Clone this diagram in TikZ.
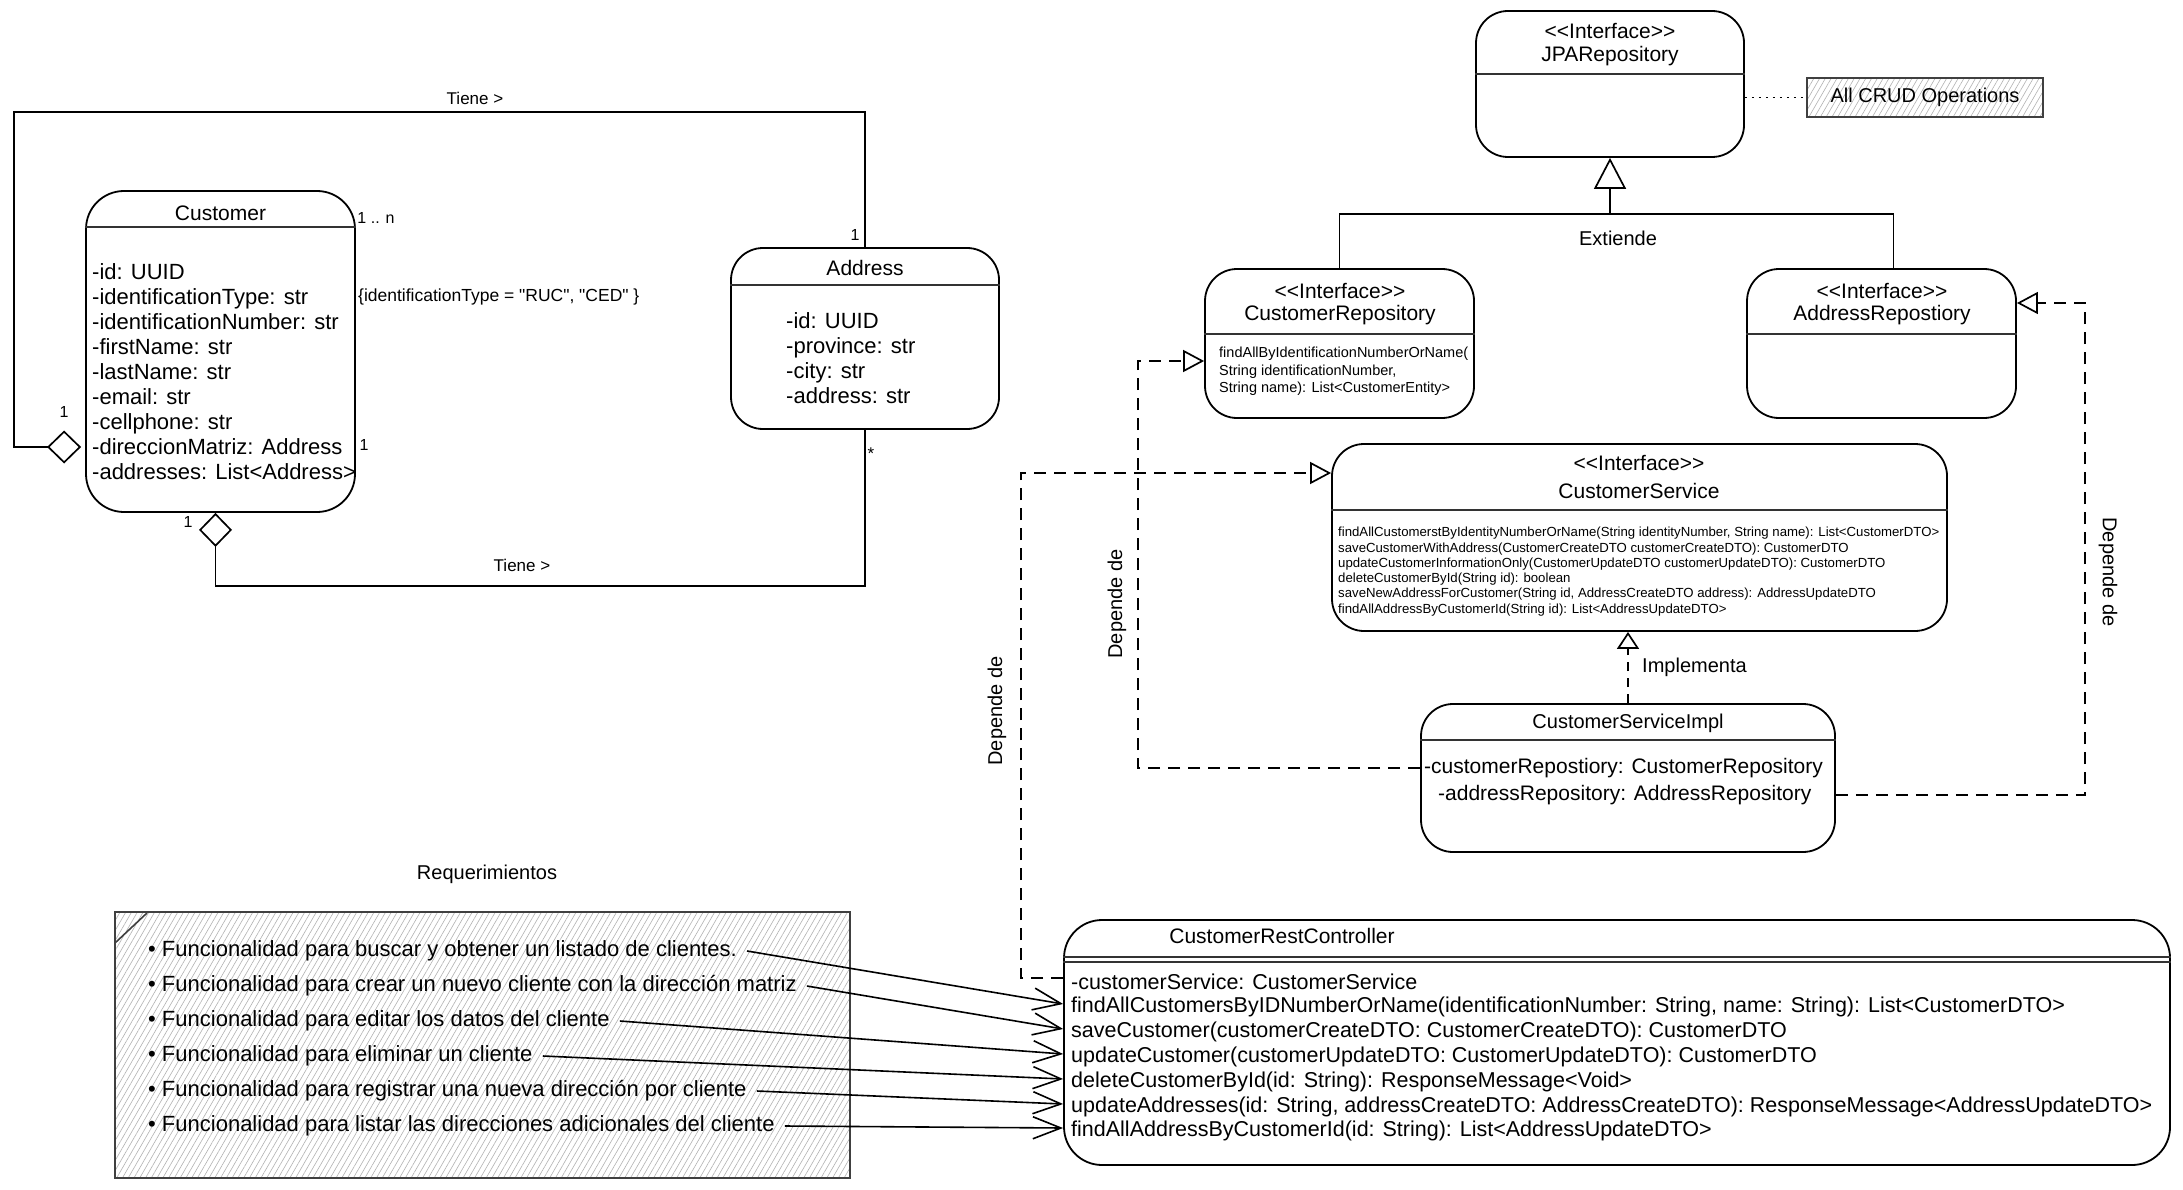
\documentclass[tikz,border=0pt]{standalone}
\usepackage{fontspec}
\setmainfont{Liberation Sans}[Ligatures=TeXOff]
\usetikzlibrary{arrows.meta,calc,patterns.meta}
\newcommand{\fz}[1]{\fontsize{#1}{#1}\selectfont}
\begin{document}
\begin{tikzpicture}[x=1pt,y=-1pt,
 box/.style={draw, line width=1.8pt, rounded corners=32pt, inner sep=0pt, fill=white},
 hdr/.style={line width=2.4pt, draw=black!80},
 lbl/.style={inner sep=0pt, font=\fz{20}},
 attr/.style={inner sep=0pt, anchor=north west, align=left},
 oneline/.style={inner sep=0pt, anchor=west},
 con/.style={line width=1.7pt},
 aggr/.style={con, {Diamond[open,length=34pt,width=33pt,line width=1.7pt]}-},
 gen/.style={con, -{Triangle[open,length=31pt,width=32pt,line width=1.7pt]}},
 dep/.style={con, dash pattern=on 12pt off 8pt, -{Triangle[open,length=21pt,width=22pt,line width=1.7pt]}},
 impl/.style={con, dash pattern=on 9pt off 7pt, -{Triangle[open,length=17pt,width=22pt,line width=1.7pt]}},
 reqarr/.style={line width=1.6pt, -{Straight Barb[length=28pt,width=22pt,line width=1.6pt]}},
 hatch/.style={pattern={Lines[angle=60,distance=5pt,line width=0.6pt]}, pattern color=black!30}
]
\path[use as bounding box, fill=white] (0,0) rectangle (2183,1190);

% ---------- boxes ----------
\node[box, rounded corners=38pt, minimum width=269pt, minimum height=321pt] (cust) at (220.5,351.5) {};
\node[box, minimum width=268pt, minimum height=181pt] (addr) at (865,338.5) {};
\node[box, minimum width=268pt, minimum height=146pt] (jpa) at (1610,84) {};
\node[draw=black!75, line width=1.6pt, hatch, minimum width=236pt, minimum height=39pt, inner sep=0pt, font=\fz{20}] (crud) at (1925,97.5) {All CRUD Operations};
\node[box, minimum width=269pt, minimum height=149pt] (crepo) at (1339.5,343.5) {};
\node[box, minimum width=269pt, minimum height=149pt] (arepo) at (1881.5,343.5) {};
\node[box, minimum width=615pt, minimum height=187pt] (cs) at (1639.5,537.5) {};
\node[box, minimum width=414pt, minimum height=148pt] (csi) at (1628,778) {};
\node[box, rounded corners=38pt, minimum width=1106pt, minimum height=245pt] (ctrl) at (1617,1042.5) {};
\node[draw=black!75, line width=1.6pt, hatch, minimum width=735pt, minimum height=266pt, inner sep=0pt] (reqbox) at (482.5,1045) {};
\draw[line width=1.6pt, black!75] (115,943) -- (147,913);

% ---------- header lines ----------
\draw[hdr] (cust.west |- 0,227) -- (cust.east |- 0,227);
\draw[hdr] (addr.west |- 0,285) -- (addr.east |- 0,285);
\draw[hdr] (jpa.west |- 0,74) -- (jpa.east |- 0,74);
\draw[hdr] (crepo.west |- 0,334) -- (crepo.east |- 0,334);
\draw[hdr] (arepo.west |- 0,334) -- (arepo.east |- 0,334);
\draw[hdr] (cs.west |- 0,510) -- (cs.east |- 0,510);
\draw[hdr] (csi.west |- 0,740) -- (csi.east |- 0,740);
\draw[line width=1.5pt, black!80] (ctrl.west |- 0,957) -- (ctrl.east |- 0,957);
\draw[line width=1.5pt, black!80] (ctrl.west |- 0,962) -- (ctrl.east |- 0,962);

% ---------- Customer ----------
\node[lbl, font=\fz{21}] (custT) at (220.5,213) {Customer};
\node[attr, font=\fontsize{22}{25.1}\selectfont] (custA) at (92,263) {-id: UUID\\-identificationType: str\\-identificationNumber: str\\-firstName: str\\-lastName: str\\-email: str\\-cellphone: str\\-direccionMatriz: Address\\-addresses: List<Address>};
\node[lbl, font=\fz{16}] (multn) at (376,218) {1 .. n};
\node[lbl, font=\fz{17.5}, anchor=west] (cons) at (358,297) {\{identificationType = "RUC", "CED" \}};
\node[lbl, font=\fz{16}] (mr) at (364,445) {1};
\node[lbl, font=\fz{16}] (ml) at (64,412) {1};
\node[lbl, font=\fz{16}] (mb) at (188,522) {1};
\node[lbl, font=\fz{16}] (ma) at (855,235) {1};
\node[lbl, font=\fz{17}] (mstar) at (871,454) {*};
\node[lbl, font=\fz{17}] (tiene1) at (475,98) {Tiene >};
\node[lbl, font=\fz{17}] (tiene2) at (522,565) {Tiene >};

% ---------- Address ----------
\node[lbl, font=\fz{21}] (addrT) at (865,268) {Address};
\node[attr, font=\fontsize{22}{25.1}\selectfont] (addrA) at (786,312) {-id: UUID\\-province: str\\-city: str\\-address: str};

% ---------- JPA ----------
\node[lbl, font=\fz{21}] (jpaS) at (1610,31) {<<Interface>>};
\node[lbl, font=\fz{21}] (jpaT) at (1610,56) {JPARepository};

% ---------- repositories ----------
\node[lbl, font=\fz{21}] (crepoS) at (1340,291) {<<Interface>>};
\node[lbl, font=\fz{21}] (crepoT) at (1340,315) {CustomerRepository};
\node[attr, font=\fontsize{14.5}{17.5}\selectfont] (crepoM) at (1219,347) {findAllByIdentificationNumberOrName(\\String identificationNumber,\\String name): List<CustomerEntity>};
\node[lbl, font=\fz{21}] (arepoS) at (1882,291) {<<Interface>>};
\node[lbl, font=\fz{21}] (arepoT) at (1882,315) {AddressRepostiory};
\node[lbl] (ext) at (1618,238) {Extiende};

% ---------- CustomerService ----------
\node[lbl, font=\fz{21}] (csS) at (1639,463) {<<Interface>>};
\node[lbl, font=\fz{21}] (csT) at (1639,491) {CustomerService};
\node[attr, font=\fontsize{13.2}{15.3}\selectfont] (csM) at (1338,527) {findAllCustomerstByIdentityNumberOrName(String identityNumber, String name): List<CustomerDTO>\\saveCustomerWithAddress(CustomerCreateDTO customerCreateDTO): CustomerDTO\\updateCustomerInformationOnly(CustomerUpdateDTO customerUpdateDTO): CustomerDTO\\deleteCustomerById(String id): boolean\\saveNewAddressForCustomer(String id, AddressCreateDTO address): AddressUpdateDTO\\findAllAddressByCustomerId(String id): List<AddressUpdateDTO>};
\node[lbl, anchor=west] (implL) at (1642,667) {Implementa};

% ---------- CustomerServiceImpl ----------
\node[lbl] (csiT) at (1628,723) {CustomerServiceImpl};
\node[oneline, font=\fz{21}] (csiA1) at (1424,768) {-customerRepostiory: CustomerRepository};
\node[oneline, font=\fz{21}] (csiA2) at (1438,795) {-addressRepository: AddressRepository};

% ---------- dependency labels ----------
\node[lbl, rotate=90] (dep1) at (1117,604) {Depende de};
\node[lbl, rotate=90] (dep2) at (997,711) {Depende de};
\node[lbl, rotate=-90] (dep3) at (2108,572) {Depende de};

% ---------- Controller ----------
\node[lbl, font=\fz{21}] (ctrlT) at (1282,936) {CustomerRestController};
\node[oneline, font=\fz{21.5}] (cm0) at (1071,982) {-customerService: CustomerService};
\node[oneline, font=\fz{21.5}] (cm1) at (1071,1007) {findAllCustomersByIDNumberOrName(identificationNumber: String, name: String): List<CustomerDTO>};
\node[oneline, font=\fz{21.5}] (cm2) at (1071,1032) {saveCustomer(customerCreateDTO: CustomerCreateDTO): CustomerDTO};
\node[oneline, font=\fz{21.5}] (cm3) at (1071,1057) {updateCustomer(customerUpdateDTO: CustomerUpdateDTO): CustomerDTO};
\node[oneline, font=\fz{21.5}] (cm4) at (1071,1082) {deleteCustomerById(id: String): ResponseMessage<Void>};
\node[oneline, font=\fz{21.5}] (cm5) at (1071,1107) {updateAddresses(id: String, addressCreateDTO: AddressCreateDTO): ResponseMessage<AddressUpdateDTO>};
\node[oneline, font=\fz{21.5}] (cm6) at (1071,1131) {findAllAddressByCustomerId(id: String): List<AddressUpdateDTO>};

% ---------- Requirements ----------
\node[lbl] (reqT) at (487,874) {Requerimientos};
\node[oneline, font=\fz{22}] (req1) at (148,951) {\textbullet\ Funcionalidad para buscar y obtener un listado de clientes.};
\node[oneline, font=\fz{22}] (req2) at (148,986) {\textbullet\ Funcionalidad para crear un nuevo cliente con la dirección matriz};
\node[oneline, font=\fz{22}] (req3) at (148,1021) {\textbullet\ Funcionalidad para editar los datos del cliente};
\node[oneline, font=\fz{22}] (req4) at (148,1056) {\textbullet\ Funcionalidad para eliminar un cliente};
\node[oneline, font=\fz{22}] (req5) at (148,1091) {\textbullet\ Funcionalidad para registrar una nueva dirección por cliente};
\node[oneline, font=\fz{22}] (req6) at (148,1126) {\textbullet\ Funcionalidad para listar las direcciones adicionales del cliente};

% ---------- connectors ----------
\draw[aggr] ($(cust.west)+(-4,95.5)$) -- ++(-67,0) -- ++(0,-335) -| (addr.north);
\draw[aggr] ($(cust.south)+(-5,0)$) -- ++(0,73) -| (addr.south);

\coordinate (gj) at (1610,214);
\draw[con] (crepo.north) |- (gj) -| ($(arepo.north)+(12,0)$);
\draw[gen] (gj) -- (jpa.south);

\draw[con, dash pattern=on 2pt off 5pt] (jpa.east |- crud.west) -- (crud.west);

\draw[dep] (csi.west |- csiA1) -- ++(-282,0) |- ($(crepo.west)+(0,17.5)$);
\draw[dep] (csi.east |- csiA2) -- ++(249,0) |- ($(arepo.east)+(0,-40.5)$);
\draw[dep] ($(ctrl.west |- cm0)+(0,-4)$) -- ++(-42,0) |- ($(cs.west)+(0,-64.5)$);
\draw[impl] (csi.north) -- (csi.north |- cs.south);

\foreach \i in {1,...,6}
  \draw[reqarr] ($(req\i.east)+(10,0)$) -- ($(ctrl.west |- cm\i)+(0,-3)$);
\end{tikzpicture}
\end{document}
